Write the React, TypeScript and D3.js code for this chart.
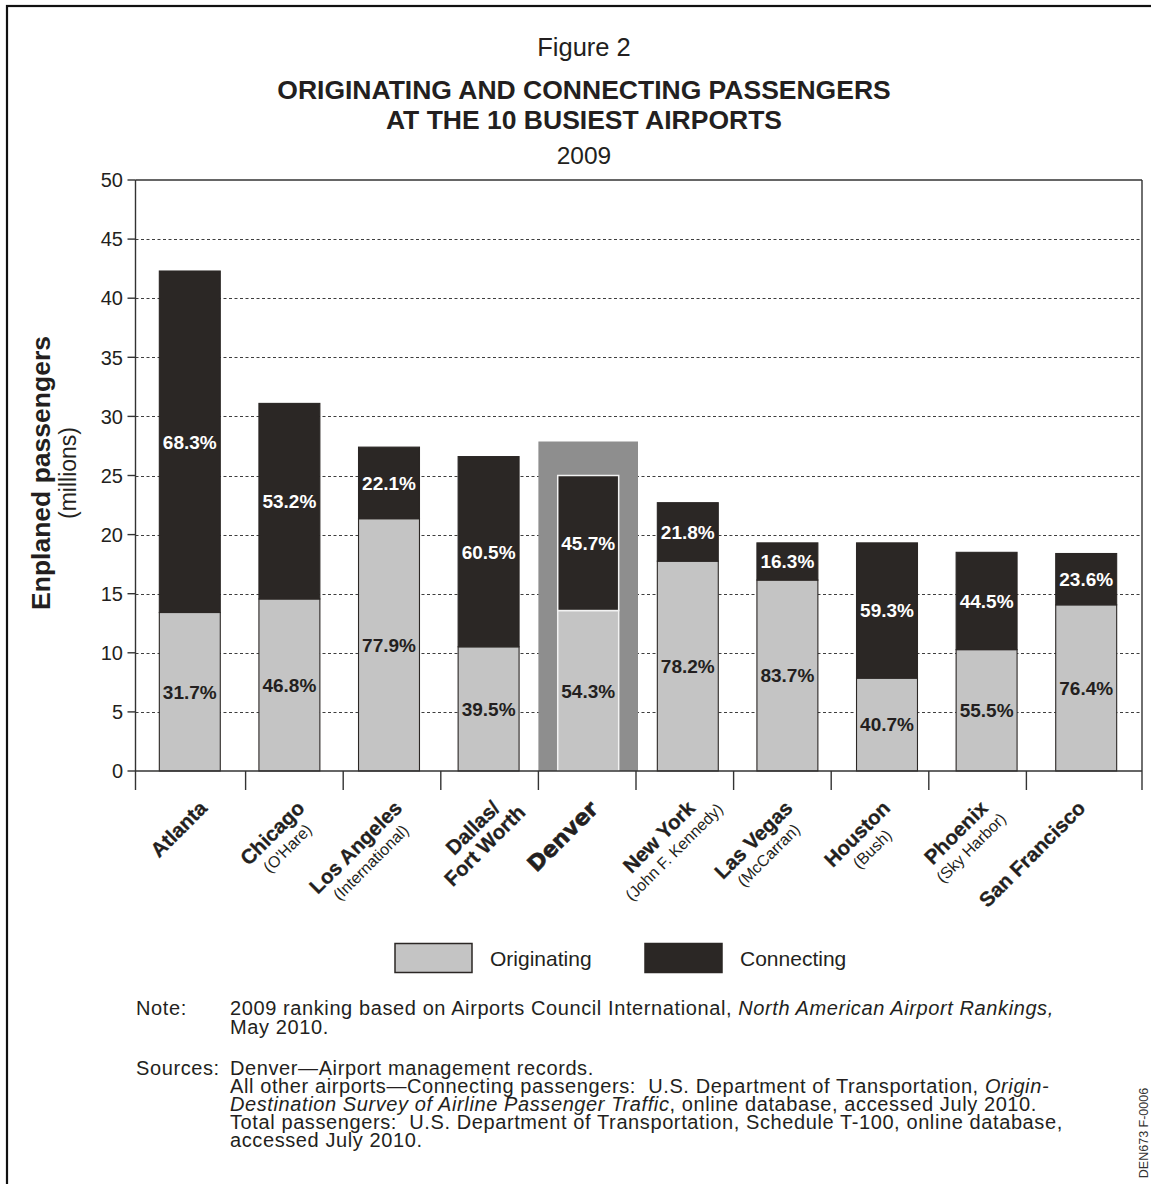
import React, { useEffect, useRef } from "react";
import * as d3 from "d3";

// Ten busiest airports, 2009 ranking order
const airports = [
  "Atlanta",
  "Chicago",
  "Los Angeles",
  "Dallas/Fort Worth",
  "Denver",
  "New York",
  "Las Vegas",
  "Houston",
  "Phoenix",
  "San Francisco",
];

// Axis label lines (bold name lines, then a smaller airport-name line)
const nameLines = [
  ["Atlanta"],
  ["Chicago"],
  ["Los Angeles"],
  ["Dallas/", "Fort Worth"],
  ["Denver"],
  ["New York"],
  ["Las Vegas"],
  ["Houston"],
  ["Phoenix"],
  ["San Francisco"],
];
const subNames = ["", "(O'Hare)", "(International)", "", "", "(John F. Kennedy)", "(McCarran)", "(Bush)", "(Sky Harbor)", ""];

// Total enplaned passengers (millions)
const totalPassengers = [42.3, 31.1, 27.4, 26.6, 25.0, 22.7, 19.3, 19.3, 18.5, 18.4];
// Share of originating and connecting passengers (%)
const originatingPct = [31.7, 46.8, 77.9, 39.5, 54.3, 78.2, 83.7, 40.7, 55.5, 76.4];
const connectingPct = [68.3, 53.2, 22.1, 60.5, 45.7, 21.8, 16.3, 59.3, 44.5, 23.6];

const yTicks = [0, 5, 10, 15, 20, 25, 30, 35, 40, 45, 50];
const highlighted = "Denver";

const legendItems = ["Originating", "Connecting"];

const W = 1151;
const H = 1184;
const SANS = "'Liberation Sans', Arial, Helvetica, sans-serif";
const HEAVY = "'DejaVu Sans', 'Liberation Sans', sans-serif";
const INK = "#231f20";
const DARK = "#2b2725";
const LIGHT = "#c4c4c4";
const HILITE = "#8e8e8e";
const NBSP = "\u00a0";

export default function App() {
  const ref = useRef<SVGSVGElement>(null);

  useEffect(() => {
    const svg = d3.select(ref.current);
    svg.selectAll("*").remove();

    const left = 135.5;
    const right = 1142;
    const top = 180;
    const bottom = 771;

    // Bar positions
    const x = d3
      .scaleBand<string>()
      .domain(airports)
      .range([140, 1136])
      .paddingInner(0.388)
      .paddingOuter(0.194);
    const step = x.step();
    const bw = x.bandwidth();
    const cellStart = (a: string) => (x(a) as number) - (step * x.paddingInner()) / 2;

    // Category cells under the axis (separators and rotated names)
    const axisX = d3.scaleBand<string>().domain(airports).range([148, 1124]);

    const y = d3.scaleLinear().domain([0, 50]).range([bottom, top]);

    // Outer frame
    svg
      .append("rect")
      .attr("x", 7)
      .attr("y", 6)
      .attr("width", W + 20)
      .attr("height", H + 20)
      .attr("fill", "none")
      .attr("stroke", "#111")
      .attr("stroke-width", 2.2);

    // Titles
    const cxTitle = 584;
    const titles = svg.append("g").attr("fill", INK).attr("font-family", SANS).attr("text-anchor", "middle");
    titles.append("text").attr("x", cxTitle).attr("y", 56).attr("font-size", 25.5).text("Figure 2");
    titles
      .append("text")
      .attr("x", cxTitle)
      .attr("y", 99)
      .attr("font-size", 26.5)
      .attr("font-weight", "bold")
      .text("ORIGINATING AND CONNECTING PASSENGERS");
    titles
      .append("text")
      .attr("x", cxTitle)
      .attr("y", 129)
      .attr("font-size", 26.5)
      .attr("font-weight", "bold")
      .text("AT THE 10 BUSIEST AIRPORTS");
    titles.append("text").attr("x", cxTitle).attr("y", 164).attr("font-size", 24.5).text("2009");

    // Dotted gridlines
    svg
      .append("g")
      .selectAll("line")
      .data(yTicks.filter((t) => t > 0 && t < 50))
      .join("line")
      .attr("x1", left)
      .attr("x2", right)
      .attr("y1", (d) => Math.round(y(d)) + 0.5)
      .attr("y2", (d) => Math.round(y(d)) + 0.5)
      .attr("stroke", "#3e3e3e")
      .attr("stroke-width", 1)
      .attr("stroke-dasharray", "3,2.5");

    // Highlight behind the Denver column
    const hiIdx = airports.indexOf(highlighted);
    const hiTop = y(totalPassengers[hiIdx]) - 34;
    svg
      .append("rect")
      .attr("x", cellStart(highlighted))
      .attr("y", hiTop)
      .attr("width", step)
      .attr("height", bottom - hiTop)
      .attr("fill", HILITE);

    const rows = airports.map((a, i) => {
      const total = totalPassengers[i];
      const orig = (total * originatingPct[i]) / 100;
      return { a, i, total, orig };
    });

    // Stacked bars
    const bars = svg.append("g");
    bars
      .selectAll("rect.orig")
      .data(rows)
      .join("rect")
      .attr("class", "orig")
      .attr("x", (d) => x(d.a) as number)
      .attr("y", (d) => y(d.orig))
      .attr("width", bw)
      .attr("height", (d) => y(0) - y(d.orig))
      .attr("fill", LIGHT)
      .attr("stroke", (d) => (d.a === highlighted ? "#f2f2f2" : DARK))
      .attr("stroke-width", (d) => (d.a === highlighted ? 1.5 : 1.1));
    bars
      .selectAll("rect.conn")
      .data(rows)
      .join("rect")
      .attr("class", "conn")
      .attr("x", (d) => x(d.a) as number)
      .attr("y", (d) => y(d.total))
      .attr("width", bw)
      .attr("height", (d) => y(d.orig) - y(d.total))
      .attr("fill", DARK)
      .attr("stroke", (d) => (d.a === highlighted ? "#f2f2f2" : DARK))
      .attr("stroke-width", (d) => (d.a === highlighted ? 1.5 : 1.1));

    // Percentage labels inside segments
    const pct = svg
      .append("g")
      .attr("font-family", SANS)
      .attr("font-weight", "bold")
      .attr("font-size", 19)
      .attr("text-anchor", "middle");
    pct
      .selectAll("text.c")
      .data(rows)
      .join("text")
      .attr("class", "c")
      .attr("x", (d) => (x(d.a) as number) + bw / 2)
      .attr("y", (d) => (y(d.total) + y(d.orig)) / 2)
      .attr("dy", "0.36em")
      .attr("fill", "#ffffff")
      .text((d) => `${connectingPct[d.i].toFixed(1)}%`);
    pct
      .selectAll("text.o")
      .data(rows)
      .join("text")
      .attr("class", "o")
      .attr("x", (d) => (x(d.a) as number) + bw / 2)
      .attr("y", (d) => (y(d.orig) + y(0)) / 2)
      .attr("dy", "0.36em")
      .attr("fill", INK)
      .text((d) => `${originatingPct[d.i].toFixed(1)}%`);

    // Plot frame and axes
    const frame = svg.append("g").attr("stroke", "#333").attr("stroke-width", 1.4).attr("fill", "none");
    frame.append("line").attr("x1", left).attr("x2", right).attr("y1", top).attr("y2", top);
    frame.append("line").attr("x1", right).attr("x2", right).attr("y1", top).attr("y2", bottom + 19);
    frame.append("line").attr("x1", left).attr("x2", left).attr("y1", top).attr("y2", bottom + 19);
    frame.append("line").attr("x1", left).attr("x2", right).attr("y1", bottom).attr("y2", bottom);
    // Category separators below the axis
    frame
      .selectAll("line.sep")
      .data(airports.slice(1))
      .join("line")
      .attr("class", "sep")
      .attr("x1", (a) => axisX(a) as number)
      .attr("x2", (a) => axisX(a) as number)
      .attr("y1", bottom)
      .attr("y2", bottom + 19);
    // Y ticks
    frame
      .selectAll("line.yt")
      .data(yTicks)
      .join("line")
      .attr("class", "yt")
      .attr("x1", left - 8)
      .attr("x2", left)
      .attr("y1", (d) => y(d))
      .attr("y2", (d) => y(d));

    svg
      .append("g")
      .attr("font-family", SANS)
      .attr("font-size", 20)
      .attr("fill", INK)
      .attr("text-anchor", "end")
      .selectAll("text")
      .data(yTicks)
      .join("text")
      .attr("x", 123)
      .attr("y", (d) => y(d))
      .attr("dy", "0.36em")
      .text((d) => String(d));

    // Y axis title
    const yt = svg.append("g").attr("font-family", SANS).attr("fill", INK).attr("text-anchor", "middle");
    yt.append("text")
      .attr("transform", "translate(50,473) rotate(-90)")
      .attr("font-size", 26.5)
      .attr("font-weight", "bold")
      .text("Enplaned passengers");
    yt.append("text")
      .attr("transform", "translate(76,473) rotate(-90)")
      .attr("font-size", 23)
      .text("(millions)");

    // Rotated category labels: top-right corner of the first line sits just right of the cell centre
    rows.forEach((d) => {
      const isHi = d.a === highlighted;
      const size = isHi ? 22 : 20.5;
      const cap = size * 0.72;
      const lx = (axisX(d.a) as number) + axisX.bandwidth() / 2 + 1;
      const ox = lx + cap * 0.707;
      const oy = 799 + cap * 0.707;
      const g = svg
        .append("g")
        .attr("transform", `translate(${ox},${oy}) rotate(-45)`)
        .attr("fill", INK);
      const lines = nameLines[d.i];
      const first = g
        .append("text")
        .attr("text-anchor", "end")
        .attr("font-family", isHi ? HEAVY : SANS)
        .attr("font-weight", "bold")
        .attr("font-size", size)
        .attr("stroke", INK)
        .attr("stroke-width", isHi ? 0.6 : 0.3)
        .text(lines[0]);
      const w0 = (first.node() as SVGTextElement).getComputedTextLength();
      lines.slice(1).forEach((ln, k) => {
        g.append("text")
          .attr("x", -w0 / 2 - 4)
          .attr("y", 21 * (k + 1))
          .attr("text-anchor", "middle")
          .attr("font-family", SANS)
          .attr("font-weight", "bold")
          .attr("font-size", size)
          .attr("stroke", INK)
          .attr("stroke-width", 0.3)
          .text(ln);
      });
      if (subNames[d.i]) {
        g.append("text")
          .attr("x", -w0 / 2)
          .attr("y", 20)
          .attr("text-anchor", "middle")
          .attr("font-family", SANS)
          .attr("font-size", 16)
          .text(subNames[d.i]);
      }
    });

    // Legend
    const legend = svg.append("g").attr("font-family", SANS).attr("font-size", 21).attr("fill", INK);
    legendItems.forEach((name, k) => {
      const lx = 395 + k * 250;
      legend
        .append("rect")
        .attr("x", lx)
        .attr("y", 943.5)
        .attr("width", 77)
        .attr("height", 29)
        .attr("fill", k === 0 ? LIGHT : DARK)
        .attr("stroke", DARK)
        .attr("stroke-width", 1.5);
      legend
        .append("text")
        .attr("x", lx + 95)
        .attr("y", 965.5)
        .text(name);
    });

    // Notes and sources
    const notes = svg
      .append("g")
      .attr("font-family", SANS)
      .attr("font-size", 20)
      .attr("letter-spacing", 0.6)
      .attr("fill", INK);
    const tx = 230;
    const put = (yy: number, parts: [string, boolean][], xx = tx) => {
      const t = notes.append("text").attr("x", xx).attr("y", yy);
      parts.forEach(([s, it]) => {
        t.append("tspan").attr("font-style", it ? "italic" : "normal").text(s);
      });
    };
    put(1015, [["Note:", false]], 136);
    put(1015, [
      ["2009 ranking based on Airports Council International, ", false],
      ["North American Airport Rankings,", true],
    ]);
    put(1034, [["May 2010.", false]]);
    put(1075, [["Sources:", false]], 136);
    put(1075, [["Denver\u2014Airport management records.", false]]);
    put(1093, [
      [`All other airports\u2014Connecting passengers:${NBSP} U.S. Department of Transportation, `, false],
      ["Origin-", true],
    ]);
    put(1111, [
      ["Destination Survey of Airline Passenger Traffic", true],
      [", online database, accessed July 2010.", false],
    ]);
    put(1129, [[`Total passengers:${NBSP} U.S. Department of Transportation, Schedule T-100, online database,`, false]]);
    put(1147, [["accessed July 2010.", false]]);

    svg
      .append("text")
      .attr("transform", "translate(1148,1133) rotate(-90)")
      .attr("text-anchor", "middle")
      .attr("font-family", SANS)
      .attr("font-size", 12.5)
      .attr("fill", "#333")
      .text("DEN673 F-0006");
  }, []);

  return (
    <svg
      ref={ref}
      width={W}
      height={H}
      viewBox={`0 0 ${W} ${H}`}
      style={{ position: "absolute", left: 0, top: 0, background: "#fff" }}
    />
  );
}
